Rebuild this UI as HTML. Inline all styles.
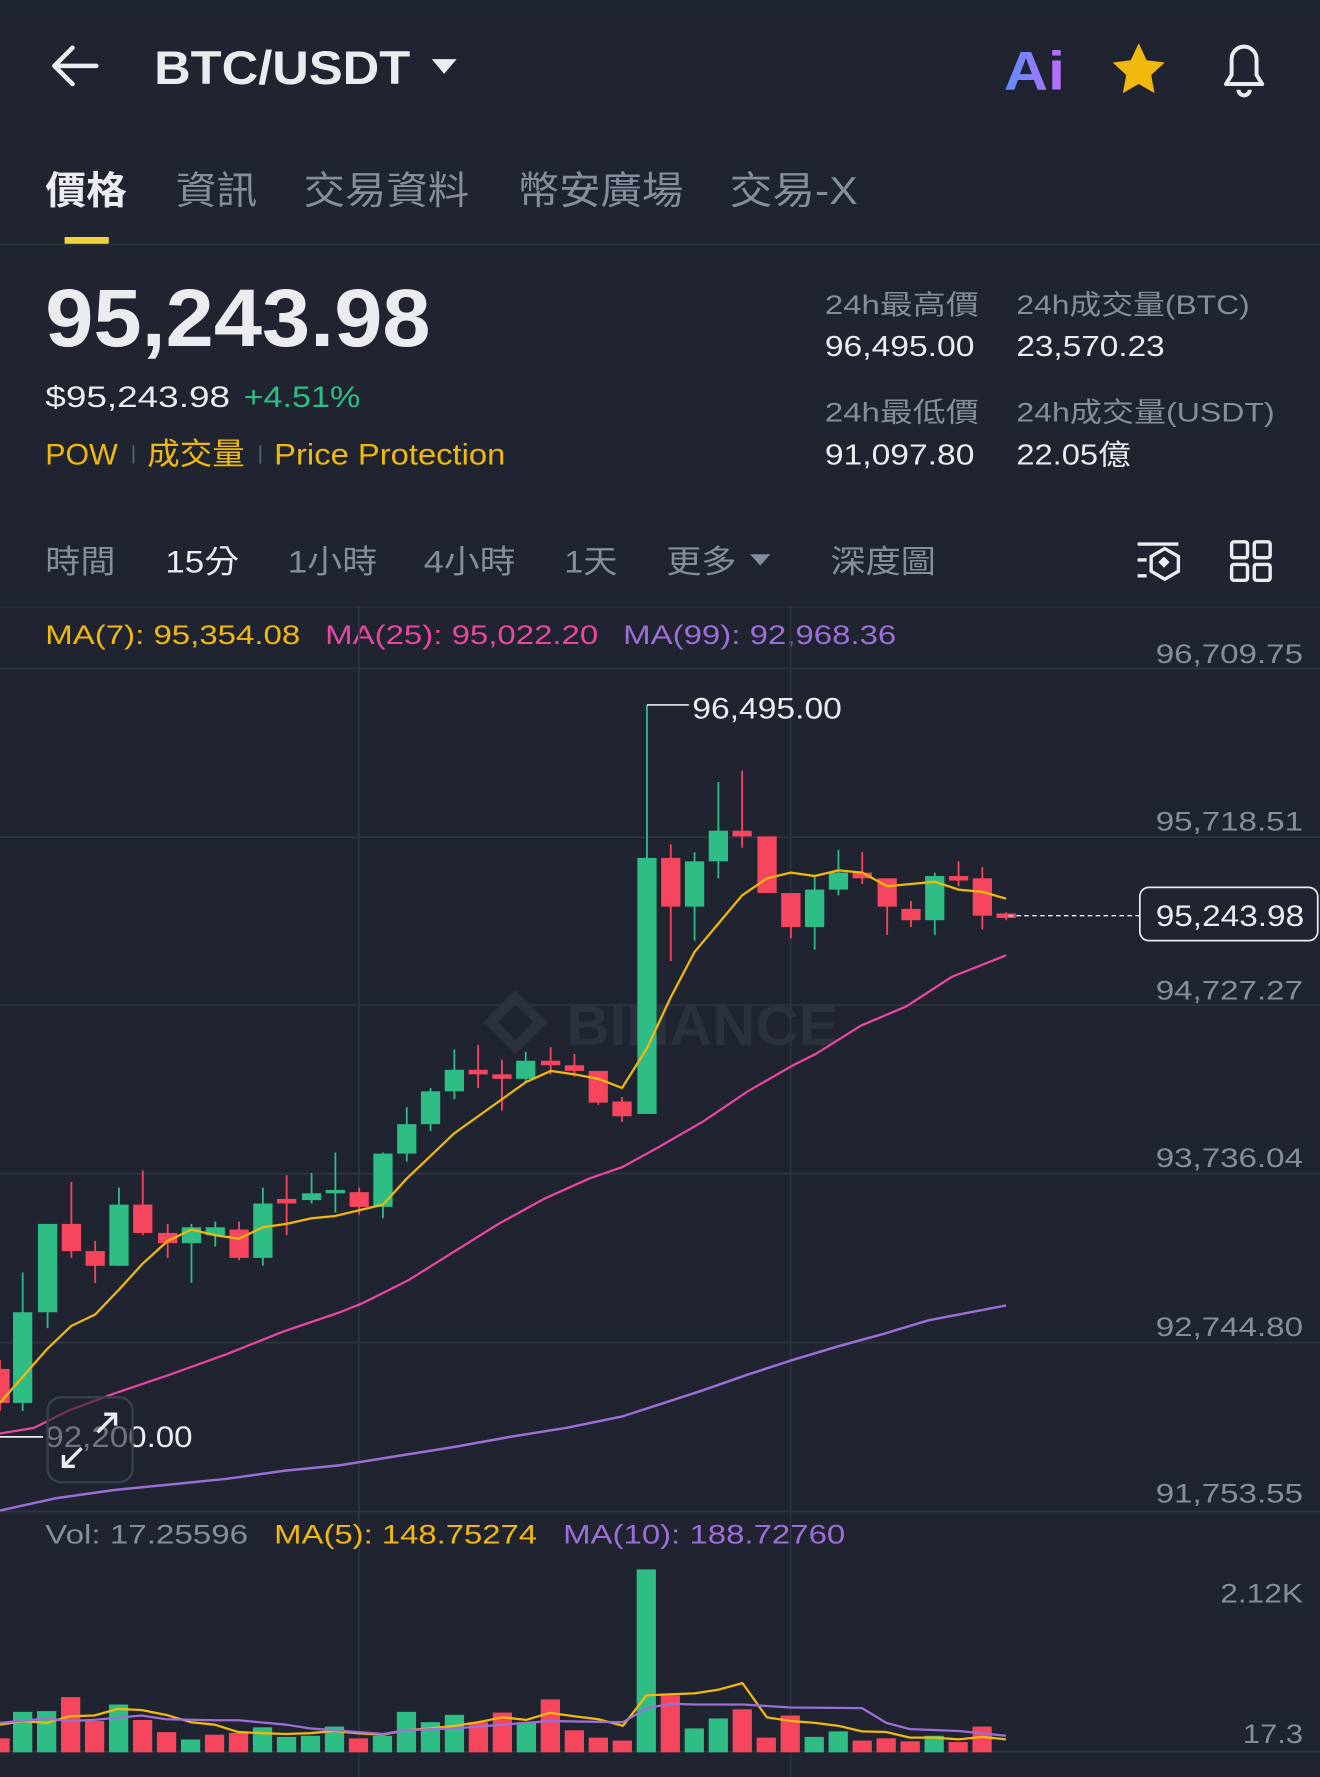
<!DOCTYPE html>
<html><head><meta charset="utf-8"><style>
html,body{margin:0;padding:0;background:#1f2430;}
svg{display:block}
text{font-family:"Liberation Sans","Noto Sans CJK TC",sans-serif}
</style></head><body>
<svg id="s" width="1320" height="1777" viewBox="0 0 1165 1568" xmlns="http://www.w3.org/2000/svg">
<rect width="1165" height="1568" fill="#1f2430"/>
<path d="M85 58H48M48 58L64 42M48 58L64 74" stroke="#eaecef" stroke-width="4" fill="none" stroke-linecap="round"/>
<text x="136" y="74" font-size="42" font-weight="bold" fill="#eaecef" textLength="226" lengthAdjust="spacingAndGlyphs">BTC/USDT</text>
<path d="M381 52h22l-11 13z" fill="#eaecef"/>
<defs><linearGradient id="ai" x1="0" y1="0" x2="1" y2="0"><stop offset="0" stop-color="#5b8dff"/><stop offset="1" stop-color="#c06cff"/></linearGradient></defs>
<text x="886" y="79" font-size="48" font-weight="bold" fill="url(#ai)" textLength="54" lengthAdjust="spacingAndGlyphs">Ai</text>
<path d="M1005 38l7 15 16 2-12 11 3 16-14-8-14 8 3-16-12-11 16-2z" fill="#f0b90b"/>
<path d="M1082 74h32l-5-8v-14a11 11 0 0 0-22 0v14z M1093 79a5 5 0 0 0 10 0" stroke="#eaecef" stroke-width="3.5" fill="none" stroke-linejoin="round"/>
<g font-size="34" lengthAdjust="spacingAndGlyphs">
<text x="40" y="180" fill="#eaecef" font-weight="bold" textLength="72" lengthAdjust="spacingAndGlyphs">價格</text>
<text x="155" y="180" fill="#848e9c" textLength="72" lengthAdjust="spacingAndGlyphs">資訊</text>
<text x="268" y="180" fill="#848e9c" textLength="146" lengthAdjust="spacingAndGlyphs">交易資料</text>
<text x="457" y="180" fill="#848e9c" textLength="146" lengthAdjust="spacingAndGlyphs">幣安廣場</text>
<text x="644" y="180" fill="#848e9c" textLength="113" lengthAdjust="spacingAndGlyphs">交易-X</text>
</g>
<rect x="57" y="209" width="39" height="7" fill="#f0d23b"/>
<rect x="0" y="215" width="1165" height="1.5" fill="#2b3139"/>
<text x="40" y="305" font-size="72" font-weight="bold" fill="#eaecef" textLength="340" lengthAdjust="spacingAndGlyphs">95,243.98</text>
<text x="40" y="359" font-size="26" fill="#eaecef" textLength="163" lengthAdjust="spacingAndGlyphs">$95,243.98</text>
<text x="215" y="359" font-size="26" fill="#2ebd85" textLength="103" lengthAdjust="spacingAndGlyphs">+4.51%</text>
<text x="40" y="410" font-size="26" fill="#f0b90b" textLength="64" lengthAdjust="spacingAndGlyphs">POW</text>
<rect x="117" y="393" width="1.5" height="16" fill="#5e6673"/>
<text x="130" y="410" font-size="27" fill="#f0b90b" textLength="86" lengthAdjust="spacingAndGlyphs">成交量</text>
<rect x="229" y="393" width="1.5" height="16" fill="#5e6673"/>
<text x="242" y="410" font-size="26" fill="#f0b90b" textLength="204" lengthAdjust="spacingAndGlyphs">Price Protection</text>
<g font-size="24">
<text x="728" y="277" fill="#848e9c" textLength="136" lengthAdjust="spacingAndGlyphs">24h最高價</text>
<text x="728" y="314" fill="#eaecef" font-size="25" textLength="132" lengthAdjust="spacingAndGlyphs">96,495.00</text>
<text x="897" y="277" fill="#848e9c" textLength="206" lengthAdjust="spacingAndGlyphs">24h成交量(BTC)</text>
<text x="897" y="314" fill="#eaecef" font-size="25" textLength="131" lengthAdjust="spacingAndGlyphs">23,570.23</text>
<text x="728" y="372" fill="#848e9c" textLength="136" lengthAdjust="spacingAndGlyphs">24h最低價</text>
<text x="728" y="410" fill="#eaecef" font-size="25" textLength="132" lengthAdjust="spacingAndGlyphs">91,097.80</text>
<text x="897" y="372" fill="#848e9c" textLength="228" lengthAdjust="spacingAndGlyphs">24h成交量(USDT)</text>
<text x="897" y="410" fill="#eaecef" font-size="25" textLength="101" lengthAdjust="spacingAndGlyphs">22.05億</text>
</g>
<g font-size="28" fill="#848e9c">
<text x="40" y="505" textLength="62" lengthAdjust="spacingAndGlyphs">時間</text>
<text x="146" y="505" fill="#eaecef" textLength="65" lengthAdjust="spacingAndGlyphs">15分</text>
<text x="254" y="505" textLength="79" lengthAdjust="spacingAndGlyphs">1小時</text>
<text x="374" y="505" textLength="81" lengthAdjust="spacingAndGlyphs">4小時</text>
<text x="498" y="505" textLength="47" lengthAdjust="spacingAndGlyphs">1天</text>
<text x="588" y="505" textLength="62" lengthAdjust="spacingAndGlyphs">更多</text>
<text x="733" y="505" textLength="93" lengthAdjust="spacingAndGlyphs">深度圖</text>
</g>
<path d="M662 489h18l-9 10z" fill="#848e9c"/>
<g stroke="#eaecef" stroke-width="3" fill="none">
<path d="M1004 480h36M1004 494h8M1004 508h8"/>
<path d="M1028 484l12 7v13l-12 7-12-7v-13z"/>
<rect x="1087" y="478" width="14" height="14" rx="2"/><rect x="1107" y="478" width="14" height="14" rx="2"/>
<rect x="1087" y="498" width="14" height="14" rx="2"/><rect x="1107" y="498" width="14" height="14" rx="2"/>
</g>
<rect x="1024" y="493" width="7" height="7" fill="#eaecef" transform="rotate(45 1028 496)"/>
<rect x="0" y="535" width="1165" height="1" fill="#2b3139"/>
<text x="40" y="568" font-size="24" fill="#f0b90b" textLength="225" lengthAdjust="spacingAndGlyphs">MA(7): 95,354.08</text>
<text x="287" y="568" font-size="24" fill="#e8479f" textLength="241" lengthAdjust="spacingAndGlyphs">MA(25): 95,022.20</text>
<text x="550" y="568" font-size="24" fill="#9d6fd6" textLength="241" lengthAdjust="spacingAndGlyphs">MA(99): 92,968.36</text>
<g fill="#2e3440">
<rect x="0" y="589" width="1165" height="1.5"/><rect x="0" y="738" width="1165" height="1.5"/>
<rect x="0" y="886" width="1165" height="1.5"/><rect x="0" y="1035" width="1165" height="1.5"/>
<rect x="0" y="1184" width="1165" height="1.5"/><rect x="0" y="1333" width="1165" height="1.5"/>
<rect x="0" y="1545" width="1165" height="1.5"/>
<rect x="316" y="535" width="1.5" height="1033"/><rect x="697" y="535" width="1.5" height="1033"/>
</g>
<g font-size="24" fill="#848e9c">
<text x="1020" y="585" textLength="130" lengthAdjust="spacingAndGlyphs">96,709.75</text>
<text x="1020" y="733" textLength="130" lengthAdjust="spacingAndGlyphs">95,718.51</text>
<text x="1020" y="882" textLength="130" lengthAdjust="spacingAndGlyphs">94,727.27</text>
<text x="1020" y="1030" textLength="130" lengthAdjust="spacingAndGlyphs">93,736.04</text>
<text x="1020" y="1179" textLength="130" lengthAdjust="spacingAndGlyphs">92,744.80</text>
<text x="1020" y="1326" textLength="130" lengthAdjust="spacingAndGlyphs">91,753.55</text>
<text x="1077" y="1414" textLength="73" lengthAdjust="spacingAndGlyphs">2.12K</text>
<text x="1097" y="1538" textLength="53" lengthAdjust="spacingAndGlyphs">17.3</text>
</g>
<text x="500" y="922" font-size="50" font-weight="bold" fill="#2c323d" textLength="240" lengthAdjust="spacingAndGlyphs">BINANCE</text>
<path d="M455 880l22 22-22 22-22-22z" fill="none" stroke="#2c323d" stroke-width="9"/>
<g id="c"></g>
<path d="M571 622H608" stroke="#eaecef" stroke-width="1.5"/>
<text x="611" y="634" font-size="26" fill="#eaecef" textLength="132" lengthAdjust="spacingAndGlyphs">96,495.00</text>
<path d="M890 808H1006" stroke="#eaecef" stroke-width="1.3" stroke-dasharray="4 3"/>
<rect x="1006" y="783" width="157" height="47" rx="8" fill="#1f2430" stroke="#eaecef" stroke-width="1.5"/>
<text x="1020" y="817" font-size="26" fill="#eaecef" textLength="131" lengthAdjust="spacingAndGlyphs">95,243.98</text>
<path d="M0 1268H38" stroke="#eaecef" stroke-width="1.5"/>
<text x="40" y="1277" font-size="26" fill="#eaecef" textLength="130" lengthAdjust="spacingAndGlyphs">92,200.00</text>
<rect x="42" y="1233" width="75" height="75" rx="12" fill="rgba(31,36,48,0.6)" stroke="#3a404c" stroke-width="2"/>
<path d="M86 1264l16-16M92 1248h10v10M72 1278l-16 16M56 1284v10h10" stroke="#eaecef" stroke-width="3" fill="none"/>
<text x="40" y="1362" font-size="24" fill="#848e9c" textLength="179" lengthAdjust="spacingAndGlyphs">Vol: 17.25596</text>
<text x="242" y="1362" font-size="24" fill="#f0b90b" textLength="232" lengthAdjust="spacingAndGlyphs">MA(5): 148.75274</text>
<text x="497" y="1362" font-size="24" fill="#9d6fd6" textLength="249" lengthAdjust="spacingAndGlyphs">MA(10): 188.72760</text>
</svg>
<script>
var G="#2ebd85",R="#f6465d",g=document.getElementById('c'),h='';
var C=[[0,1208,1238,1200,1245,'r'],[20,1158,1238,1123,1245,'g'],[42,1080,1158,1080,1172,'g'],[63,1080,1104,1043,1110,'r'],[84,1104,1117,1095,1132,'r'],[105,1063,1117,1048,1117,'g'],[126,1063,1088,1033,1090,'r'],[148,1088,1097,1080,1110,'r'],[169,1083,1097,1080,1132,'g'],[190,1083,1090,1078,1100,'g'],[211,1085,1110,1078,1112,'r'],[232,1062,1110,1048,1117,'g'],[253,1058,1062,1037,1090,'r'],[275,1053,1059,1035,1062,'g'],[296,1050,1053,1017,1070,'g'],[317,1052,1065,1048,1072,'r'],[338,1018,1065,1017,1075,'g'],[359,992,1018,977,1025,'g'],[380,963,992,960,998,'g'],[401,944,963,926,970,'g'],[422,944,948,922,960,'r'],[443,948,952,935,980,'r'],[464,936,952,928,955,'g'],[486,936,940,924,948,'r'],[507,940,945,930,950,'r'],[528,945,973,945,975,'r'],[549,972,985,968,990,'r'],[571,757,983,622,983,'g'],[592,757,800,745,848,'r'],[613,760,800,752,830,'g'],[634,733,760,690,775,'g'],[655,733,738,680,748,'r'],[677,738,788,738,788,'r'],[698,788,818,788,828,'r'],[719,785,818,772,838,'g'],[740,770,785,750,790,'g'],[761,770,775,752,780,'r'],[783,775,800,775,825,'r'],[804,802,812,795,818,'r'],[825,773,812,770,825,'g'],[846,773,777,760,782,'r'],[867,775,808,765,820,'r'],[888,806,810,805,812,'r']];
C.forEach(function(c){var col=c[5]=='g'?G:R;h+='<rect x="'+(c[0]-0.8)+'" y="'+c[3]+'" width="1.6" height="'+(c[4]-c[3])+'" fill="'+col+'"/><rect x="'+(c[0]-8.5)+'" y="'+c[1]+'" width="17" height="'+Math.max(2.5,c[2]-c[1])+'" fill="'+col+'"/>';});
function pl(p,col,w){h+='<polyline points="'+p.map(function(q){return q.join(',')}).join(' ')+'" fill="none" stroke="'+col+'" stroke-width="'+w+'" stroke-linejoin="round"/>';}
pl([[0,1238],[20,1215],[42,1190],[63,1170],[84,1160],[105,1138],[126,1115],[148,1095],[169,1085],[190,1090],[211,1093],[232,1083],[253,1080],[275,1075],[296,1073],[317,1068],[338,1063],[359,1040],[380,1020],[401,1000],[422,985],[443,970],[464,955],[486,945],[507,948],[528,952],[549,960],[571,925],[592,880],[613,840],[634,815],[655,790],[677,775],[698,770],[719,773],[740,768],[761,770],[783,782],[804,780],[825,778],[846,785],[867,787],[888,793]],"#f0b90b",2);
pl([[0,1265],[30,1260],[60,1245],[100,1230],[150,1213],[200,1195],[250,1175],[300,1158],[320,1150],[360,1130],[400,1105],[440,1080],[480,1058],[520,1040],[549,1030],[580,1013],[620,990],[660,963],[700,940],[720,930],[760,905],[800,888],[840,862],[888,843]],"#e8479f",2);
pl([[0,1333],[50,1322],[100,1315],[150,1310],[200,1305],[250,1298],[300,1293],[350,1285],[400,1277],[450,1268],[500,1260],[549,1250],[580,1240],[620,1227],[660,1213],[700,1200],[740,1188],[780,1177],[820,1165],[888,1152]],"#9d6fd6",2.2);
function cx(x){return x/1.346} function cy(y){return (1200+y/2.717)/1.133}
var V=[[0,1462,'r'],[28,1390,'g'],[55,1388,'g'],[83,1350,'r'],[112,1415,'r'],[140,1370,'g'],[168,1412,'r'],[197,1445,'r'],[227,1465,'g'],[255,1452,'r'],[283,1447,'r'],[312,1432,'g'],[340,1458,'g'],[368,1455,'g'],[397,1430,'g'],[425,1462,'r'],[455,1455,'g'],[482,1390,'g'],[511,1418,'g'],[540,1398,'g'],[568,1418,'r'],[597,1392,'r'],[625,1418,'g'],[653,1356,'r'],[682,1440,'r'],[711,1460,'r'],[740,1468,'r'],[768,1003,'g'],[797,1345,'r'],[825,1435,'g'],[853,1408,'g'],[882,1383,'r'],[911,1460,'r'],[940,1400,'r'],[968,1458,'g'],[996,1443,'g'],[1024,1468,'r'],[1053,1462,'r'],[1081,1470,'r'],[1110,1455,'g'],[1139,1472,'r'],[1167,1430,'r']];
var base=cy(1500);
V.forEach(function(v,i){var x=i==0?0:20+(i-1)*21.17;var t=cy(v[1]);h+='<rect x="'+(x-8.5)+'" y="'+t+'" width="17" height="'+(base-t)+'" fill="'+(v[2]=='g'?G:R)+'"/>';});
function vp(a){return a.map(function(q){return [cx(q[0]).toFixed(1),cy(q[1]).toFixed(1)]})}
pl(vp([[0,1425],[28,1415],[55,1420],[83,1402],[112,1400],[140,1382],[168,1385],[197,1398],[227,1418],[255,1425],[283,1445],[312,1448],[340,1450],[368,1448],[397,1442],[425,1448],[455,1452],[482,1440],[511,1435],[540,1428],[568,1418],[597,1405],[625,1412],[653,1393],[682,1402],[711,1410],[740,1428],[768,1345],[797,1342],[825,1340],[853,1330],[882,1312],[911,1405],[940,1415],[968,1420],[996,1428],[1024,1443],[1053,1445],[1081,1460],[1110,1460],[1139,1465],[1167,1458],[1195,1465]]),"#f0b90b",2);
pl(vp([[0,1420],[55,1408],[83,1415],[112,1412],[168,1400],[197,1410],[255,1413],[283,1413],[340,1425],[368,1435],[397,1440],[455,1450],[482,1440],[540,1435],[597,1425],[653,1415],[740,1418],[768,1380],[797,1368],[825,1370],[882,1370],[940,1378],[1024,1380],[1053,1420],[1081,1437],[1139,1442],[1195,1455]]),"#9d6fd6",2);
g.innerHTML=h;
</script>
</body></html>
